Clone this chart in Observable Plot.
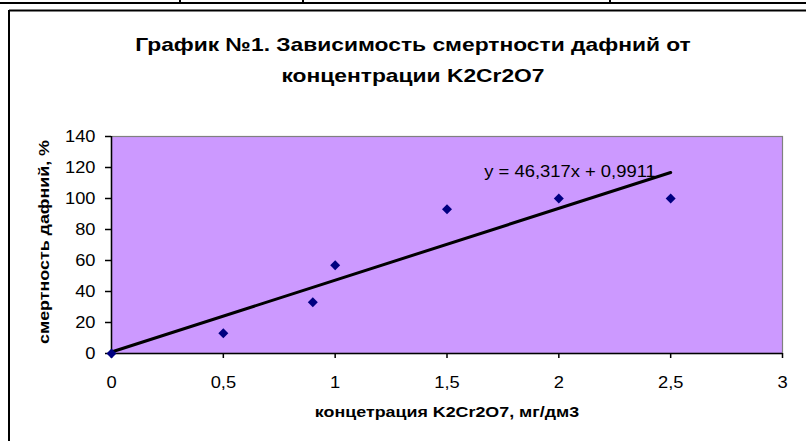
<!DOCTYPE html>
<html>
<head>
<meta charset="utf-8">
<script src="https://cdn.jsdelivr.net/npm/d3@7"></script>
<script src="https://cdn.jsdelivr.net/npm/@observablehq/plot@0.6"></script>
<style>
  html, body { margin: 0; padding: 0; background: #fff; }
  #chart { width: 806px; height: 441px; overflow: hidden; }
</style>
</head>
<body>
<div id="chart"></div>
<script>
// ---- data ----
const concentration = [0, 0.5, 0.9, 1, 1.5, 2, 2.5];
const mortality = [0, 13, 33, 57, 93, 100, 100];
const xTicks = [0, 0.5, 1, 1.5, 2, 2.5, 3];
const yTicks = [0, 20, 40, 60, 80, 100, 120, 140];
const titleLines = ["График №1. Зависимость смертности дафний от", "концентрации K2Cr2O7"];
const xLabel = "концетрация K2Cr2O7, мг/дм3";
const yLabel = "смертность дафний, %";
const trendLabel = ["y = 46,317x + 0,9911"];
const trendLabelX = [2.05];
const trendLabelY = [117];

const data = concentration.map((c, i) => ({x: c, y: mortality[i]}));
const fmt = d => String(d).replace(".", ",");
const font = "Arial, 'Liberation Sans', sans-serif";

const chart = Plot.plot({
  width: 806,
  height: 441,
  marginLeft: 111,
  marginRight: 24,
  marginTop: 136,
  marginBottom: 88,
  style: {fontFamily: font, fontSize: "16px", color: "#000", background: "#fff", overflow: "visible"},
  x: {domain: [0, 3], label: null},
  y: {domain: [0, 140], label: null},
  marks: [
    Plot.frame({fill: "#CC99FF", stroke: "#808080", strokeWidth: 1.2}),
    Plot.ruleY([0], {stroke: "#000", strokeWidth: 1.5}),
    Plot.ruleX([0], {stroke: "#000", strokeWidth: 1.5}),
    Plot.axisX(xTicks, {tickSize: 5, tickPadding: 18, tickFormat: fmt, fontSize: 16, stroke: "#000", strokeWidth: 1.5, className: "ticklab"}),
    Plot.axisY(yTicks, {tickSize: 6, tickPadding: 10, tickFormat: fmt, fontSize: 16, stroke: "#000", strokeWidth: 1.5, className: "ticklab"}),
    Plot.linearRegressionY(data, {x: "x", y: "y", stroke: "#000", strokeWidth: 3, ci: 0}),
    Plot.dot(data, {x: "x", y: "y", symbol: "diamond2", r: 4.5, fill: "#000080", stroke: "none"}),
    Plot.text(trendLabel, {x: trendLabelX, y: trendLabelY, text: d => d, fontSize: 16, fill: "#000", className: "trendlab"}),
    Plot.text([titleLines[0]], {frameAnchor: "top", dx: -34, dy: -99, text: d => d, fontSize: 19, fontWeight: "bold", fill: "#000", className: "titlelab"}),
    Plot.text([titleLines[1]], {frameAnchor: "top", dx: -34, dy: -68, text: d => d, fontSize: 19, fontWeight: "bold", fill: "#000", className: "titlelab"}),
    Plot.text([xLabel], {frameAnchor: "bottom", dy: 63, text: d => d, fontSize: 15, fontWeight: "bold", fill: "#000", className: "axlab"}),
    Plot.text([yLabel], {frameAnchor: "left", dx: -67, dy: -3, rotate: -90, textAnchor: "middle", text: d => d, fontSize: 15, fontWeight: "bold", fill: "#000", className: "axlab"})
  ]
});

document.getElementById("chart").appendChild(chart);

// Excel renders the text slightly wider than Arial: stretch horizontally
function stretch(selector, factor) {
  chart.querySelectorAll(selector + " text").forEach(t => {
    const len = t.getComputedTextLength();
    t.setAttribute("textLength", (len * factor).toFixed(1));
    t.setAttribute("lengthAdjust", "spacingAndGlyphs");
  });
}
stretch(".ticklab", 1.14);
stretch(".trendlab", 1.15);
stretch(".titlelab", 1.2);
stretch(".axlab", 1.19);

// decorative frame lines (table edge above and chart border)
const svg = d3.select(chart);
const deco = svg.append("g").attr("stroke", "#000").attr("fill", "none");
deco.append("line").attr("x1", 0).attr("x2", 806).attr("y1", 3).attr("y2", 3).attr("stroke-width", 2);
[180, 303, 610].forEach(x => deco.append("line").attr("x1", x).attr("x2", x).attr("y1", 0).attr("y2", 3).attr("stroke-width", 2));
deco.append("line").attr("x1", 9).attr("x2", 806).attr("y1", 10.5).attr("y2", 10.5).attr("stroke-width", 2);
deco.append("line").attr("x1", 9).attr("x2", 9).attr("y1", 10).attr("y2", 441).attr("stroke-width", 2);
</script>
</body>
</html>
